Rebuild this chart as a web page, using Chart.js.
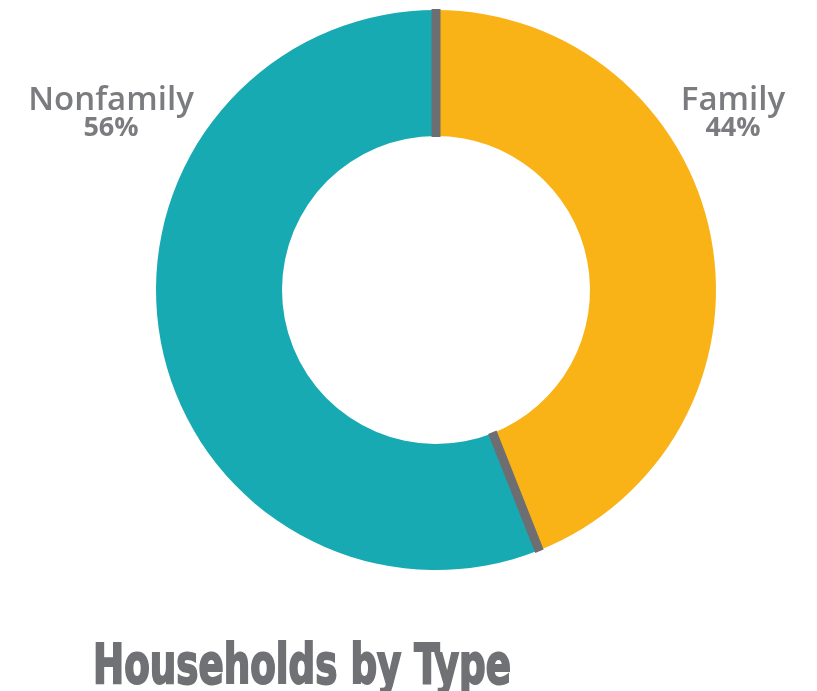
<!DOCTYPE html>
<html>
<head>
<meta charset="utf-8">
<script src="https://cdn.jsdelivr.net/npm/chart.js@4"></script>
<style>
  html, body { margin: 0; padding: 0; background: #fff; }
  #wrap { position: relative; width: 817px; height: 691px; }
</style>
</head>
<body>
<div id="wrap"><canvas id="donut"></canvas></div>
<script>
const categories = ['Family', 'Nonfamily'];
const shares = [44, 56];
const colors = ['#F9B316', '#18AAB3'];
const chartTitle = 'Households by Type';

// gray divider line at the start of every slice
const dividers = {
    id: 'dividers',
    afterDatasetsDraw(chart) {
        const ctx = chart.ctx;
        chart.getDatasetMeta(0).data.forEach(arc => {
            const p = arc.getProps(['x', 'y', 'startAngle', 'innerRadius', 'outerRadius'], true);
            const c = Math.cos(p.startAngle), s = Math.sin(p.startAngle);
            ctx.save();
            ctx.strokeStyle = '#6D6E72';
            ctx.lineWidth = 9;
            ctx.beginPath();
            ctx.moveTo(p.x + c * (p.innerRadius - 1), p.y + s * (p.innerRadius - 1));
            ctx.lineTo(p.x + c * (p.outerRadius + 1), p.y + s * (p.outerRadius + 1));
            ctx.stroke();
            ctx.restore();
        });
    }
};

// side labels and the title below
const texts = {
    id: 'texts',
    afterDraw(chart) {
        const ctx = chart.ctx;
        ctx.save();
        ctx.fillStyle = '#7B7C7F';
        ctx.textAlign = 'center';
        ctx.textBaseline = 'alphabetic';
        const spots = [{x: 733, y: 110}, {x: 111, y: 110}];
        categories.forEach((c, i) => {
            ctx.font = '600 33px "Open Sans", sans-serif';
            ctx.fillText(c, spots[i].x, spots[i].y);
            ctx.font = 'bold 27px "Open Sans", sans-serif';
            ctx.fillText(shares[i] + '%', spots[i].x, spots[i].y + 26);
        });

        ctx.fillStyle = '#707174';
        ctx.strokeStyle = '#707174';
        ctx.lineWidth = 2;
        ctx.font = 'bold 56px "Liberation Sans Narrow", "DejaVu Sans Condensed", sans-serif';
        ctx.textAlign = 'left';
        const w = ctx.measureText(chartTitle).width;
        ctx.translate(93, 683);
        ctx.scale(418 / w, 1);
        ctx.fillText(chartTitle, 0, 0);
        ctx.strokeText(chartTitle, 0, 0);
        ctx.restore();
    }
};

new Chart(document.getElementById('donut'), {
    type: 'doughnut',
    data: {
        labels: categories,
        datasets: [{
            data: shares,
            backgroundColor: colors,
            borderWidth: 0
        }]
    },
    options: {
        responsive: true,
        maintainAspectRatio: false,
        animation: false,
        cutout: '55%',
        layout: { padding: { top: 10, bottom: 121, left: 156, right: 101 } },
        plugins: {
            legend: { display: false },
            tooltip: { enabled: false }
        }
    },
    plugins: [dividers, texts]
});
</script>
</body>
</html>
